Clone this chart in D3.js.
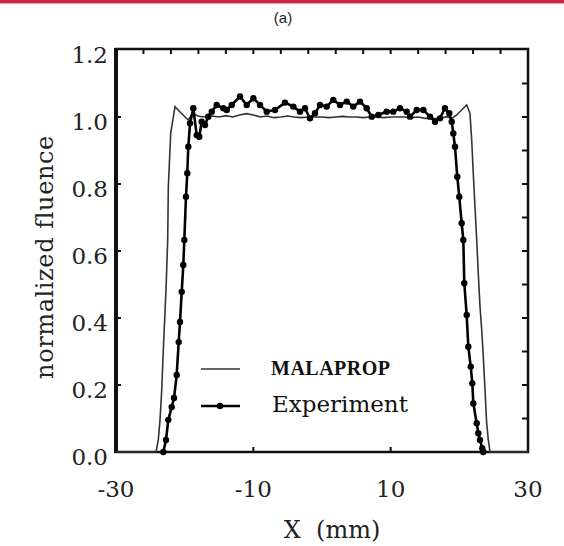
<!DOCTYPE html>
<html>
<head>
<meta charset="utf-8">
<script src="https://cdn.jsdelivr.net/npm/d3@7"></script>
<style>
  body { margin: 0; background: #fff; }
  svg { display: block; }
</style>
</head>
<body>
<div id="chart"></div>
<script>
// measured profile, Experiment (x in mm, normalized fluence)
var expX = [-23.11, -22.72, -22.38, -21.89, -21.55, -21.16, -20.87, -20.68, -20.43, -20.2, -20.05,
  -19.81, -19.62, -19.47, -19.22, -18.74, -18.25, -17.87, -17.52, -17.04, -16.56, -16.06, -15.34,
  -14.37, -13.88, -13.15, -11.94, -10.97, -10.0, -9.03, -8.05, -6.85, -5.39, -4.18, -3.2, -2.48,
  -1.75, -1.02, -0.29, 0.68, 1.65, 2.62, 3.6, 4.56, 5.53, 6.51, 7.24, 8.2, 9.42, 10.38, 11.36,
  12.33, 12.82, 13.79, 14.76, 15.73, 16.46, 17.18, 17.91, 18.54, 18.89, 19.12, 19.37, 19.7, 19.99,
  20.34, 20.58, 20.72, 21.07, 21.31, 21.66, 21.89, 22.04, 22.53, 22.76, 23.01, 23.34, 23.49]
var expY = [0, 0.036, 0.096, 0.134, 0.161, 0.23, 0.328, 0.388, 0.478, 0.558, 0.633,
  0.762, 0.832, 0.911, 0.981, 1.026, 0.946, 0.941, 0.986, 0.976, 1.001, 1.016, 1.036,
  1.026, 1.021, 1.036, 1.061, 1.036, 1.056, 1.036, 1.016, 1.021, 1.043, 1.031, 1.016, 1.026,
  0.996, 1.011, 1.036, 1.031, 1.051, 1.036, 1.046, 1.031, 1.046, 1.026, 1.001, 1.006, 1.016, 1.016, 1.026,
  1.016, 1.001, 1.021, 1.021, 1.001, 0.986, 0.996, 1.026, 1.011, 0.986, 0.951, 0.911, 0.822, 0.762,
  0.683, 0.633, 0.504, 0.409, 0.314, 0.255, 0.205, 0.145, 0.086, 0.056, 0.036, 0.011, 0]

// calculated profile, MALAPROP
var malX = [-30, -24.17, -23.84, -23.59, -23.34, -23.11, -22.72, -22.47, -22.38, -22.03, -21.41, -20.53,
  -19.47, -18.8, -18, -17, -16, -15, -14, -13, -12, -11, -10, -9, -8, -7, -6, -5, -4, -3, -2, -1,
  0, 1, 2, 3, 4, 5, 6, 7, 8, 9, 10, 11, 12, 13, 14, 15, 16, 17, 18.16, 18.89, 19.62, 20.58, 21.07,
  21.55, 21.8, 22.03, 22.28, 22.53, 22.76, 23.01, 23.26, 23.49, 23.74, 23.98, 24.22, 24.47, 30]
var malY = [0, 0, 0.036, 0.096, 0.185, 0.304, 0.484, 0.633, 0.792, 0.952, 1.031, 1.012,
  0.991, 1.012, 1.002, 1.0, 1.003, 1.0, 1.004, 1.0, 1.006, 1.01, 1.006, 1.0, 1.003, 0.998, 1.0, 1.003, 1.0, 0.998, 1.0, 1.0,
  1.0, 0.998, 1.0, 1.002, 1.0, 1.0, 0.998, 1.0, 1.0, 0.998, 1.0, 1.0, 1.0, 0.998, 1.0, 0.996, 0.996, 0.995, 1.001, 0.996, 1.006, 1.026, 1.036,
  1.011, 0.931, 0.832, 0.732, 0.633, 0.533, 0.434, 0.364, 0.284, 0.185, 0.086, 0.036, 0, 0]

var xTickLabels = [-30, -10, 10, 30]
var yTickLabels = [0, 0.2, 0.4, 0.6, 0.8, 1.0, 1.2]
var topTicks = [-26, -22, -18, -14, -10, -6, -2, 2, 6, 10, 14, 18, 22, 26]
var rightTicks = [0.1, 0.2, 0.3, 0.4, 0.5, 0.6, 0.7, 0.8, 0.9, 1.0, 1.1]
var bottomTicks = [-10, 10]

var width = 564, height = 546
var serif = "'DejaVu Serif', serif"

var svg = d3.select("#chart").append("svg")
  .attr("width", width)
  .attr("height", height)

// red rule at the top of the page
svg.append("rect").attr("x", 0).attr("y", 0).attr("width", width).attr("height", 3).attr("fill", "#c8283e")
svg.append("rect").attr("x", 0).attr("y", 3).attr("width", width).attr("height", 1).attr("fill", "#e6a3ad")

svg.append("text")
  .attr("x", 283).attr("y", 23)
  .attr("text-anchor", "middle")
  .attr("font-family", "'Liberation Sans', Arial, sans-serif")
  .attr("font-size", 15)
  .attr("fill", "#222")
  .text("(a)")

var x = d3.scaleLinear().domain([-30, 30]).range([116, 528])
var y = d3.scaleLinear().domain([0, 1.2]).range([452, 50])

// frame
svg.append("rect")
  .attr("x", x(-30)).attr("y", 49)
  .attr("width", x(30) - x(-30)).attr("height", y(0) - 49)
  .attr("fill", "none").attr("stroke", "#111").attr("stroke-width", 2.5)
svg.append("line")
  .attr("x1", x(-30)).attr("x2", x(-30)).attr("y1", 48).attr("y2", y(0) + 1)
  .attr("stroke", "#111").attr("stroke-width", 4)

var ticks = svg.append("g").attr("stroke", "#111").attr("stroke-width", 2)
ticks.selectAll(".tt").data(topTicks).join("line")
  .attr("x1", d => x(d)).attr("x2", d => x(d)).attr("y1", 49).attr("y2", 54)
ticks.selectAll(".bt").data(bottomTicks).join("line")
  .attr("x1", d => x(d)).attr("x2", d => x(d)).attr("y1", y(0)).attr("y2", y(0) - 5)
ticks.selectAll(".lt").data(yTickLabels.slice(1, -1)).join("line")
  .attr("x1", x(-30)).attr("x2", x(-30) + 5).attr("y1", d => y(d)).attr("y2", d => y(d))
ticks.selectAll(".rt").data(rightTicks).join("line")
  .attr("x1", x(30)).attr("x2", x(30) - 6).attr("y1", d => y(d)).attr("y2", d => y(d))

// tick labels
svg.append("g").selectAll("text").data(yTickLabels).join("text")
  .attr("x", 108).attr("y", d => y(d) + 13)
  .attr("text-anchor", "end")
  .attr("font-family", serif).attr("font-size", 23).attr("fill", "#222")
  .text(d => d3.format(".1f")(d))

svg.append("g").selectAll("text").data(xTickLabels).join("text")
  .attr("x", d => x(d)).attr("y", 497)
  .attr("text-anchor", "middle")
  .attr("font-family", serif).attr("font-size", 23).attr("fill", "#222")
  .text(d => d)

svg.append("text")
  .attr("x", 332).attr("y", 538)
  .attr("text-anchor", "middle")
  .attr("font-family", serif).attr("font-size", 24).attr("fill", "#222")
  .style("white-space", "pre")
  .text("X  (mm)")

svg.append("text")
  .attr("transform", "translate(53,257) rotate(-90)")
  .attr("text-anchor", "middle")
  .attr("font-family", serif).attr("font-size", 24).attr("fill", "#222")
  .attr("letter-spacing", 0.6)
  .text("normalized fluence")

// curves
var line = d3.line().x(d => x(d[0])).y(d => y(d[1]))
var malData = malX.map((v, i) => [v, malY[i]])
var expData = expX.map((v, i) => [v, expY[i]])

var plot = svg.append("g")
plot.append("path").datum(malData)
  .attr("d", line).attr("fill", "none").attr("stroke", "#333").attr("stroke-width", 1.6)
plot.append("path").datum(expData)
  .attr("d", line).attr("fill", "none").attr("stroke", "#000").attr("stroke-width", 2.6)
plot.selectAll("circle").data(expData).join("circle")
  .attr("cx", d => x(d[0])).attr("cy", d => y(d[1])).attr("r", 3.2).attr("fill", "#000")

// legend
var legend = svg.append("g")
legend.append("line").attr("x1", 201).attr("x2", 240).attr("y1", 369).attr("y2", 369)
  .attr("stroke", "#333").attr("stroke-width", 1.6)
legend.append("text").attr("x", 271).attr("y", 375)
  .attr("font-family", "'Liberation Serif', serif").attr("font-size", 20)
  .attr("font-weight", "bold").attr("letter-spacing", 0.5).attr("fill", "#111")
  .text("MALAPROP")
legend.append("line").attr("x1", 201).attr("x2", 240).attr("y1", 406).attr("y2", 406)
  .attr("stroke", "#000").attr("stroke-width", 2.6)
legend.append("circle").attr("cx", 220).attr("cy", 406).attr("r", 3.2).attr("fill", "#000")
legend.append("text").attr("x", 272).attr("y", 412)
  .attr("font-family", serif).attr("font-size", 23).attr("fill", "#111")
  .text("Experiment")
</script>
</body>
</html>
